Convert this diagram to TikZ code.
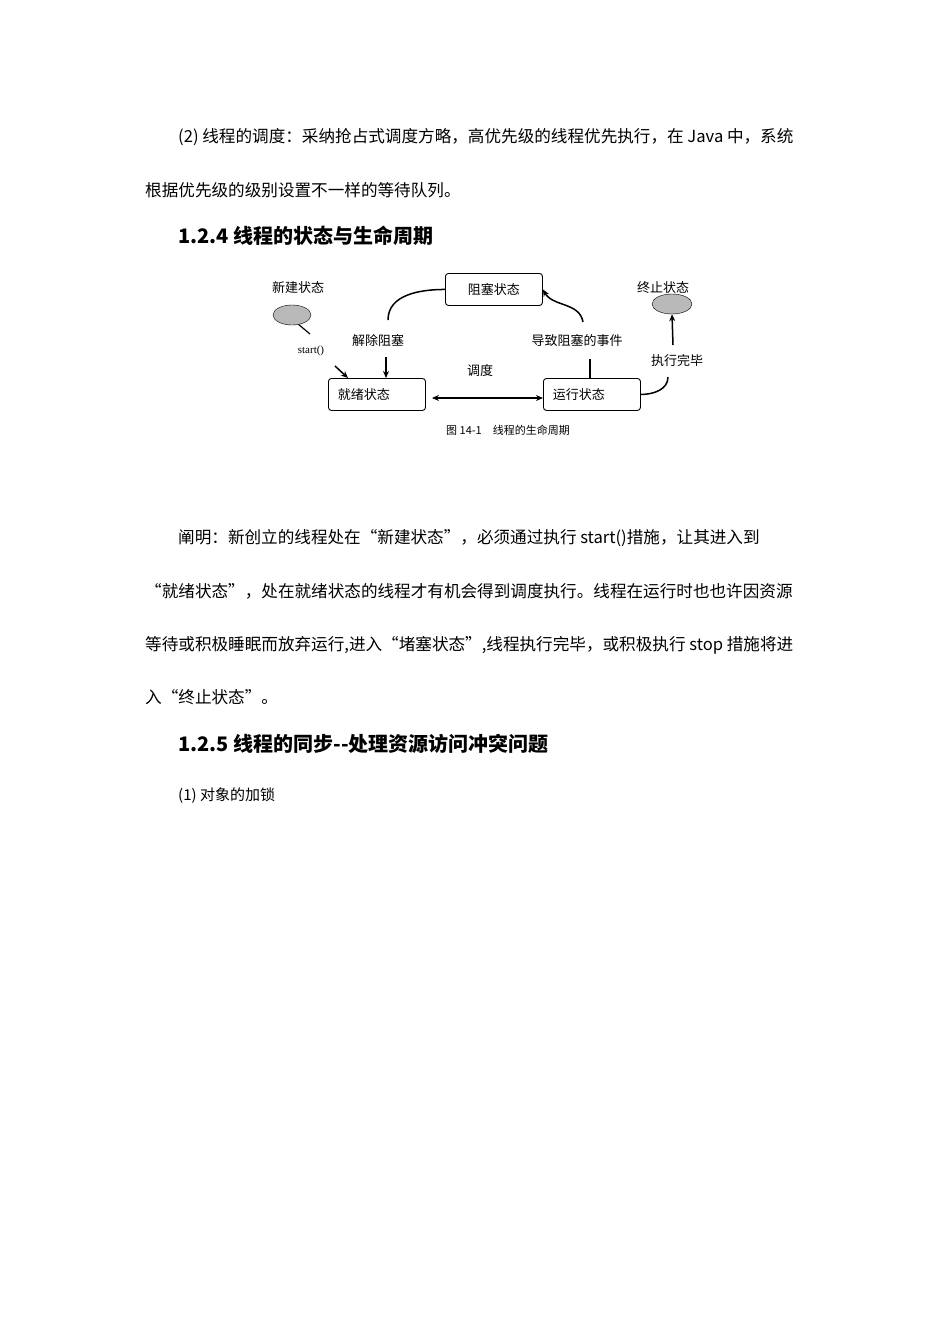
\documentclass[tikz,border=0pt]{standalone}
\usepackage{fontspec}
\setmainfont{Liberation Serif}
\newfontfamily\cjk{Noto Sans CJK SC}
\usetikzlibrary{arrows.meta,shapes.geometric}
\begin{document}
\begin{tikzpicture}[x=1pt,y=-1pt,
  body/.style={anchor=west,inner sep=0pt,font=\cjk\fontsize{16.6}{18}\selectfont},
  head/.style={anchor=west,inner sep=0pt,font=\cjk\bfseries\fontsize{20}{22}\selectfont},
  lab/.style={inner sep=0pt,font=\cjk\fontsize{13}{15}\selectfont},
  state/.style={draw,rounded corners=3pt,minimum width=97pt,minimum height=32pt,inner sep=0pt,font=\cjk\fontsize{13}{15}\selectfont,line width=0.9pt},
  term/.style={draw,ellipse,fill=gray!55,inner sep=0pt,minimum width=38pt,minimum height=20pt},
  arr/.style={-{Stealth[length=7pt,width=6pt]},line width=1.5pt}]
\useasboundingbox (0,0) rectangle (950,1344);
\node[body] (l1) at (178,137) {(2) 线程的调度：采纳抢占式调度方略，高优先级的线程优先执行，在 Java 中，系统};
\node[body] (l2) at (145,190) {根据优先级的级别设置不一样的等待队列。};
\node[head] (h1) at (178,236) {1.2.4 线程的状态与生命周期};
% diagram
\node[state,anchor=north west] (blk) at (445,273) {阻塞状态};
\node[state,anchor=north west] (rdy) at (328,378) {\hspace*{-2em}就绪状态};
\node[state,anchor=north west] (run) at (543,378) {\hspace*{-2em}运行状态};
\node[lab] (newl) at (298,288) {新建状态};
\node[term] (newn) at (292,315) {};
\coordinate (ne2) at (310,334);
\draw[line width=1.2pt] (newn.-55) -- (ne2);
\node[lab,font=\fontsize{11}{12}\selectfont] (st) at (311,351) {start()};
\coordinate (sa) at (335,366);
\coordinate (sb) at (348,378);
\draw[arr] (sa) -- (sb);
\node[lab] (endl) at (663,288) {终止状态};
\node[term,minimum width=40pt] (endn) at (672,304) {};
\node[lab] (unb) at (378,341) {解除阻塞};
\coordinate (ua) at (388,320);
\draw[line width=1.5pt] (ua) to[out=90,in=180] (blk.west);
\coordinate (ub) at (386,357);
\draw[arr] (ub) -- (rdy.north -| ub);
\node[lab] (ev) at (577,341) {导致阻塞的事件};
\coordinate (ea) at (583,322);
\draw[arr] (ea) to[out=100,in=-60] (blk.east);
\coordinate (eb) at (590,359);
\draw[line width=1.5pt] (run.north -| eb) -- (eb);
\node[lab] (sch) at (480,371) {调度};
\coordinate (dx) at (432,398);
\draw[{Stealth[length=7pt,width=6pt]}-{Stealth[length=7pt,width=6pt]},line width=1.5pt] (dx) -- (dx -| run.west);
\node[lab] (fin) at (677,361) {执行完毕};
\coordinate (fa) at (668,377);
\draw[line width=1.5pt] (run.east) to[out=0,in=-90] (fa);
\coordinate (fb) at (673,345);
\draw[arr] (fb) -- (endn.south);
\node[lab,font=\cjk\fontsize{11}{12}\selectfont] (cap) at (508,430) {图 14-1\quad 线程的生命周期};
% paragraph
\node[body] (p1) at (178,538) {阐明：新创立的线程处在“新建状态”，必须通过执行 start()措施，让其进入到};
\node[body] (p2) at (145,591) {“就绪状态”，处在就绪状态的线程才有机会得到调度执行。线程在运行时也也许因资源};
\node[body] (p3) at (145,645) {等待或积极睡眠而放弃运行,进入“堵塞状态”,线程执行完毕，或积极执行 stop 措施将进};
\node[body] (p4) at (145,697) {入“终止状态”。};
\node[head] (h2) at (178,744) {1.2.5 线程的同步--处理资源访问冲突问题};
\node[body,font=\cjk\fontsize{15}{16}\selectfont] (q1) at (178,796) {(1) 对象的加锁};
\end{tikzpicture}
\end{document}
